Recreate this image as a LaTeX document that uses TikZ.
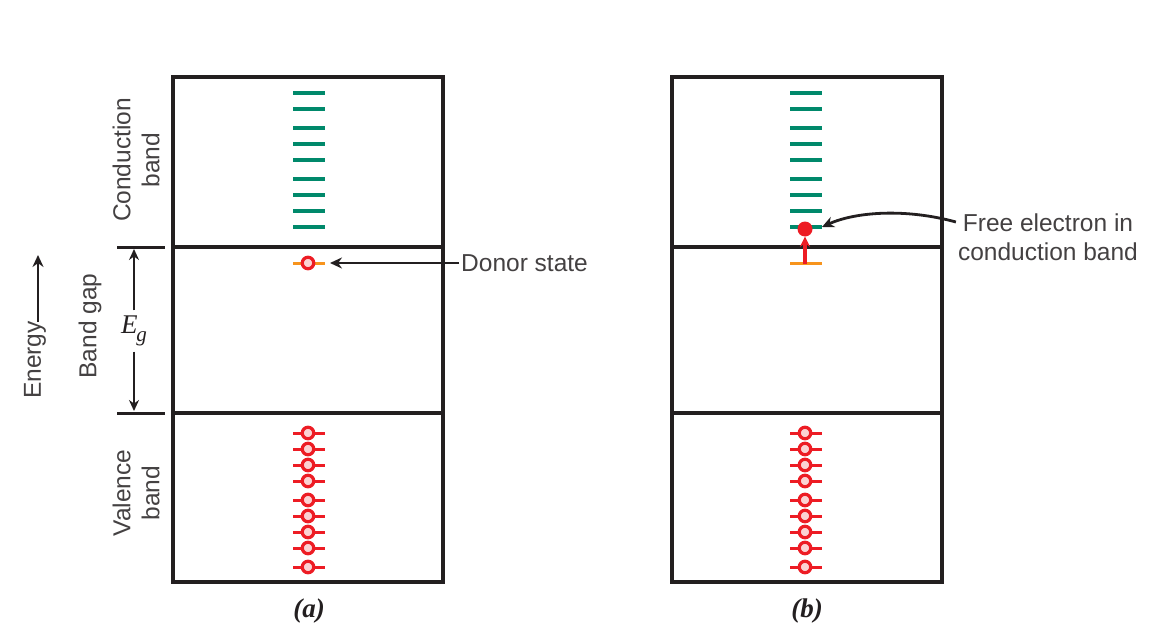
\documentclass[tikz,border=0pt]{standalone}
\usepackage{fontspec}
\setmainfont{Liberation Serif}
\setsansfont{Liberation Sans}
\usetikzlibrary{arrows.meta}
\definecolor{bandgreen}{HTML}{00896B}
\definecolor{elred}{HTML}{ED1C24}
\definecolor{donororange}{HTML}{F7941D}
\definecolor{ink}{HTML}{231F20}
\begin{document}
\begin{tikzpicture}[x=1pt,y=-1pt,
  box/.style={draw=ink,line width=3.2pt},
  tickline/.style={draw=ink,line width=3pt},
  level/.style={draw=bandgreen,line width=3.2pt},
  valline/.style={draw=elred,line width=3pt},
  hole/.style={circle,draw=elred,fill=elred!20,line width=3.2pt,minimum size=11.5pt,inner sep=0pt},
  lbl/.style={font=\sffamily\fontsize{24.5}{29}\selectfont,text=ink!85,inner sep=2pt},
  rlbl/.style={lbl,rotate=90,align=center},
  ptr/.style={draw=ink,line width=2.8pt,-{Stealth[length=12pt,width=11pt]}},
  thinptr/.style={draw=ink,line width=2.4pt,-{Stealth[length=11pt,width=10pt]}},
  captxt/.style={font=\fontsize{27}{30}\selectfont\bfseries\itshape,text=ink}
]
\useasboundingbox (0,0) rectangle (1168,626);
\fill[white] (0,0) rectangle (1168,626);

% ---------- boxes ----------
\foreach \dx in {0,499}{
  \draw[box] (173+\dx,77) rectangle (443+\dx,582);
  \draw[box] (173+\dx,247) -- (443+\dx,247);
  \draw[box] (173+\dx,413) -- (443+\dx,413);
}

% ---------- band levels ----------
\foreach \dx in {0,497}{
  \foreach \y in {93,109,128,144,160,179,195,211,227}{
    \draw[level] (293+\dx,\y) -- (325+\dx,\y);
  }
  \foreach \y in {433,449,465,481,500,516,532,548,567}{
    \draw[valline] (293+\dx,\y) -- (325+\dx,\y);
    \node[hole] at (308+\dx,\y) {};
  }
}

% ---------- (a) donor state ----------
\draw[draw=donororange,line width=3pt] (293,263) -- (325,263);
\node[hole] (donorA) at (308,263) {};
\node[lbl,anchor=west] (donor) at (459,263) {Donor state};
\coordinate (donorTip) at (330,263);
\draw[ptr] (donor.west) -- (donorTip);

% ---------- left labels ----------
\node[rlbl] (cb) at (136,160) {Conduction\\band};
\node[rlbl] (vb) at (136,493) {Valence\\band};
\node[rlbl] (bg) at (90,326) {Band gap};
\node[rlbl] (energy) at (35,360) {Energy};
\coordinate (energyTop) at (38,255);
\draw[ptr] (38,322) -- (energyTop);

\draw[tickline] (117,247) -- (165,247);
\draw[tickline] (117,413) -- (165,413);
\node[font=\fontsize{27}{30}\selectfont,text=ink,inner sep=0pt,minimum height=41pt] (eg) at (134,331)
  {\textit{E}\kern-1pt\raisebox{-8pt}{\fontsize{21}{21}\selectfont\textit{g}}};
\coordinate (egTop) at (134,249);
\coordinate (egBot) at (134,411);
\draw[thinptr] (eg.north) -- (egTop);
\draw[thinptr] (eg.south) -- (egBot);

% ---------- (b) free electron ----------
\draw[draw=donororange,line width=3pt] (790,263) -- (822,263);
\node[circle,fill=elred,minimum size=15pt,inner sep=0pt] (dotB) at (805,229) {};
\coordinate (origB) at (805,264);
\draw[draw=elred,line width=3.5pt,-{Stealth[length=10pt,width=10pt]}] (origB) -- (dotB.south);
\node[lbl,align=center] (free) at (1048,237) {Free electron in\\conduction band};
\coordinate (freeTip) at (822,227);
\draw[ptr] (free.west |- 0,222) .. controls (905,208) and (855,212) .. (freeTip);

% ---------- captions ----------
\node[captxt] (capA) at (309,611) {(a)};
\node[captxt] (capB) at (807,611) {(b)};
\end{tikzpicture}
\end{document}
